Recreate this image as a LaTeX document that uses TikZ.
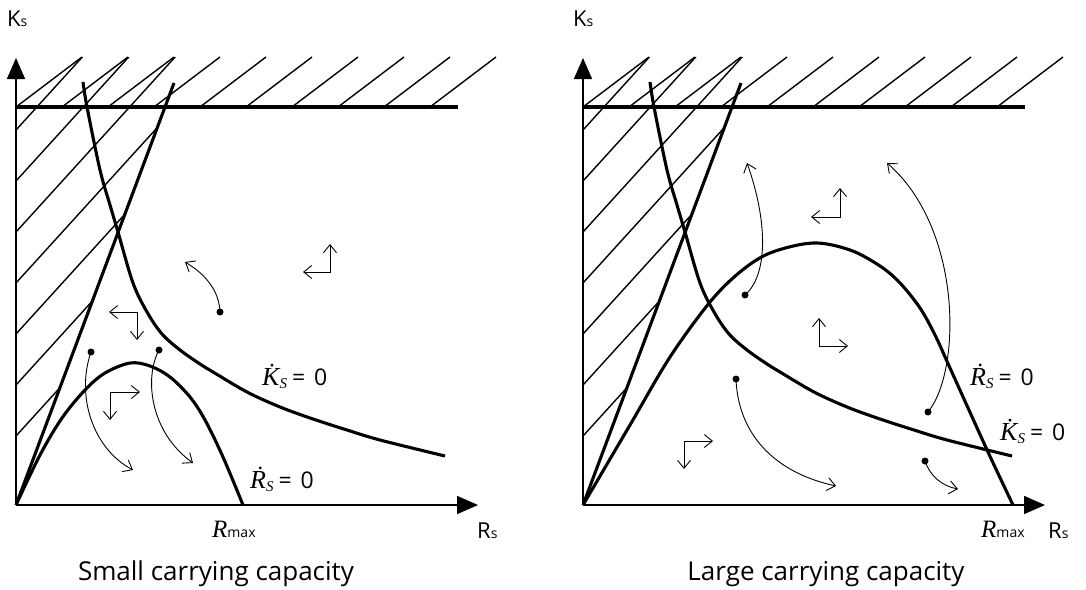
\documentclass[tikz,border=0pt]{standalone}
\usepackage{fontspec}
\setmainfont{Open Sans}
\newfontfamily\serifit{Liberation Serif}[ItalicFont=* Italic]
\usetikzlibrary{arrows.meta}
\newcommand\hatchpanel{%
  \begin{scope}
    \clip (16,57) -- (16,505) -- (183.7,57) -- cycle;
    \foreach \k in {0,...,6} \draw[hatchline] (16,130+51*\k) -- ++(220,-242);
  \end{scope}
  \foreach \k in {0,...,9} \draw[hatchline] (16+46*\k,107) -- ++(66,-50);
  \draw[axisline] (16,505) -- (16,58);
  \draw[axisline] (16,505) -- (478,505);
  \draw[boldline] (16,107) -- (458,107);
  \draw[boldline] (16,505) -- (174,83);
  \draw[boldline] plot[smooth, tension=0.55] coordinates {(83,82) (87,107) (100,170) (110,205) (118,232) (133,283) (147,312) (162,334) (180,350) (200,364) (213,372) (247,392) (280,407) (313,419) (347,430) (380,440) (445,456)};
}
\newcommand\dotlabel[1]{{\serifit\itshape\fontsize{26}{26}\selectfont\.{#1}}\raisebox{-3pt}{\serifit\itshape\fontsize{15}{15}\selectfont S}\kern5pt{\fontsize{23}{23}\selectfont=\kern9pt0}}
\newcommand\rmaxlabel{{\serifit\itshape\fontsize{25}{25}\selectfont R}{\fontsize{14}{14}\selectfont max}}
\newcommand\axistext[1]{{\fontsize{22}{22}\selectfont #1}{\fontsize{14}{14}\selectfont s}}
\begin{document}
\begin{tikzpicture}[x=1pt,y=-1pt,
  boldline/.style={line width=3.1pt},
  hatchline/.style={line width=1.4pt},
  axisline/.style={line width=1.6pt,-{Triangle[length=21pt,width=18pt]}},
  flow/.style={line width=0.9pt,-{Straight Barb[length=8pt,width=13pt]}},
  flowpair/.style={line width=0.9pt,{Straight Barb[length=8pt,width=13pt]}-{Straight Barb[length=8pt,width=13pt]}},
  dotmark/.style={circle,fill,inner sep=0pt,minimum size=7pt},
  axlab/.style={inner sep=0pt,anchor=base west},
  mathlab/.style={inner sep=0pt,anchor=base west},
  caption/.style={inner sep=0pt,anchor=base}]
\useasboundingbox (0,0) rectangle (1086,589);

% ---------- left panel ----------
\hatchpanel
\draw[boldline] plot[smooth, tension=0.55] coordinates {(16,505) (40,455) (62,418) (85,390) (105,373) (130,363) (150,366) (170,377) (190,397) (205,420) (223,457) (243,505)};

\node[axlab] (ksL) at (7,27) {\axistext{K}};
\node[axlab] (rsL) at (477,538) {\axistext{R}};
\node[mathlab] (rmaxL) at (212,537) {\rmaxlabel};
\node[mathlab] (kdotL) at (262,385) {\dotlabel{K}};
\node[mathlab] (rdotL) at (250,488) {\dotlabel{R}};
\node[caption] (capL) at (216,580) {\fontsize{26}{26}\selectfont Small carrying capacity};

\node[dotmark] (dL1) at (220,312) {};
\node[dotmark] (dL2) at (91,352) {};
\node[dotmark] (dL3) at (159,350) {};
\coordinate (hL1) at (185,262);
\coordinate (hL2) at (133,470);
\coordinate (hL3) at (193,463);
\draw[flow] (dL1.center) .. controls (219,290) and (205,274) .. (hL1);
\draw[flow] (dL2.center) .. controls (76,395) and (92,448) .. (hL2);
\draw[flow] (dL3.center) .. controls (144,378) and (150,432) .. (hL3);

\coordinate (cL1) at (330,272);
\draw[flowpair] (303,272) -- (cL1) -- (330,244);
\coordinate (cL2) at (137,312);
\draw[flowpair] (109,312) -- (cL2) -- (137,340);
\coordinate (cL3) at (110,392);
\draw[flowpair] (140,392) -- (cL3) -- (110,420);

% ---------- right panel ----------
\begin{scope}[xshift=567pt]
\hatchpanel
\end{scope}
\draw[boldline] plot[smooth, tension=0.55] coordinates {(583,505) (630,425) (670,357) (710,302) (740,272) (770,253) (813,243) (850,250) (880,266) (900,283) (920,308) (935,335) (950,368) (988,452) (1013,505)};

\node[axlab] (ksR) at (573,27) {\axistext{K}};
\node[axlab] (rsR) at (1048,538) {\axistext{R}};
\node[mathlab] (rmaxR) at (981,537) {\rmaxlabel};
\node[mathlab] (rdotR) at (970,385) {\dotlabel{R}};
\node[mathlab] (kdotR) at (1000,440) {\dotlabel{K}};
\node[caption] (capR) at (826,580) {\fontsize{26}{26}\selectfont Large carrying capacity};

\node[dotmark] (dR1) at (745,295) {};
\node[dotmark] (dR2) at (928,412) {};
\node[dotmark] (dR3) at (736,379) {};
\node[dotmark] (dR4) at (925,461) {};
\coordinate (hR1) at (747,163);
\coordinate (hR2) at (887,163);
\coordinate (hR3) at (836,486);
\coordinate (hR4) at (958,489);
\draw[flow] (dR1.center) .. controls (768,275) and (768,222) .. (hR1);
\draw[flow] (dR2.center) .. controls (962,370) and (962,228) .. (hR2);
\draw[flow] (dR3.center) .. controls (738,432) and (772,472) .. (hR3);
\draw[flow] (dR4.center) .. controls (930,476) and (942,486) .. (hR4);

\coordinate (cR1) at (840,217);
\draw[flowpair] (811,217) -- (cR1) -- (840,188);
\coordinate (cR2) at (819,346);
\draw[flowpair] (819,318) -- (cR2) -- (848,346);
\coordinate (cR3) at (684,441);
\draw[flowpair] (713,441) -- (cR3) -- (684,469);
\end{tikzpicture}
\end{document}
